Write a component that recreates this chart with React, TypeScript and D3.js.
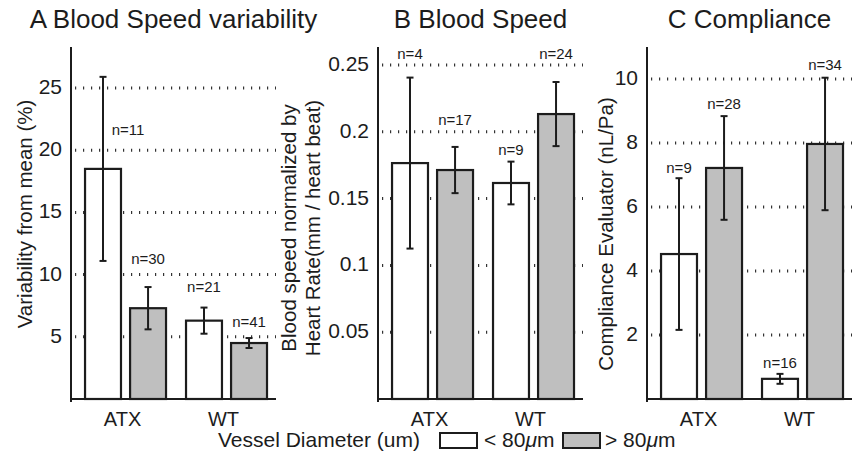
import React, { useEffect, useRef } from 'react';
import * as d3 from 'd3';

// bar order: ATX <80, ATX >80, WT <80, WT >80
const groups = ['ATX', 'WT'];
const sizeClasses = ['<', '>'];
const sizeLimit = '80';

const speedVarMean = [18.5, 7.3, 6.3, 4.5];
const speedVarErr = [7.4, 1.7, 1.05, 0.4];
const speedVarN = [11, 30, 21, 41];
const speedVarTicks = [5, 10, 15, 20, 25];

const speedMean = [0.1766, 0.1714, 0.1617, 0.2133];
const speedErr = [0.064, 0.0173, 0.016, 0.024];
const speedN = [4, 17, 9, 24];
const speedTicks = [0.05, 0.1, 0.15, 0.2, 0.25];

const complianceMean = [4.53, 7.22, 0.63, 7.97];
const complianceErr = [2.37, 1.62, 0.155, 2.07];
const complianceN = [9, 28, 16, 34];
const complianceTicks = [2, 4, 6, 8, 10];

const FONT = '"Liberation Sans", Arial, Helvetica, sans-serif';
const INK = '#1c1c1c';
const GRAY = '#bfbfbf';

interface Panel {
  title: string;
  yLabel: string[];
  yMax: number;
  ticks: number[];
  mean: number[];
  err: number[];
  n: number[];
  left: number;
  labelX: number[];   // baseline x of each y label line
  labelY: number;
  nY: number[];       // where the n= labels sit, in data units
  nDx: number[];
}

const panels: Panel[] = [
  {
    title: 'A Blood Speed variability', yLabel: ['Variability from mean (%)'],
    yMax: 28.3, ticks: speedVarTicks, mean: speedVarMean, err: speedVarErr, n: speedVarN,
    left: 71, labelX: [32], labelY: 214,
    nY: [21.2, 10.85, 8.6, 5.79], nDx: [25, 0, 0, 0],
  },
  {
    title: 'B Blood Speed', yLabel: ['Blood speed normalized by', 'Heart Rate(mm / heart beat)'],
    yMax: 0.2635, ticks: speedTicks, mean: speedMean, err: speedErr, n: speedN,
    left: 378, labelX: [296, 320], labelY: 228,
    nY: [0.2545, 0.2051, 0.1826, 0.2545], nDx: [0, 0, 0, 0],
  },
  {
    title: 'C Compliance', yLabel: ['Compliance Evaluator (nL/Pa)'],
    yMax: 11, ticks: complianceTicks, mean: complianceMean, err: complianceErr, n: complianceN,
    left: 647, labelX: [613], labelY: 234,
    nY: [7.06, 9.06, 0.97, 10.28], nDx: [0, 0, 0, 0],
  },
];

const W = 857;
const H = 459;
const TOP = 47;
const BOTTOM = 399;
const PW = 205;

const App: React.FC = () => {
  const ref = useRef<SVGSVGElement>(null);

  useEffect(() => {
    if (!ref.current) return;
    const svg = d3.select(ref.current);
    svg.selectAll('*').remove();
    svg.attr('font-family', FONT);

    panels.forEach((p) => {
      const x = d3.scaleLinear().domain([0.46, 2.49]).range([p.left, p.left + PW]);
      const y = d3.scaleLinear().domain([0, p.yMax]).range([BOTTOM, TOP]);
      const g = svg.append('g');
      const fmt = d3.format('~g');

      // dotted grid
      g.selectAll('.grid')
        .data(p.ticks)
        .enter().append('line')
        .attr('x1', p.left + 4).attr('x2', p.left + PW)
        .attr('y1', (d) => y(d)).attr('y2', (d) => y(d))
        .attr('stroke', '#333').attr('stroke-width', 3)
        .attr('stroke-dasharray', '1.2 6.8');

      const bars = p.mean.map((m, i) => ({
        m, e: p.err[i], n: p.n[i],
        cx: x(Math.floor(i / 2) + 1 + (i % 2 === 0 ? -0.223 : 0.223)),
        fill: i % 2 === 0 ? '#ffffff' : GRAY,
        nY: p.nY[i], nDx: p.nDx[i],
      }));
      const bw = x(0.356) - x(0);

      g.selectAll('.bar')
        .data(bars)
        .enter().append('rect')
        .attr('x', (d) => d.cx - bw / 2)
        .attr('width', bw)
        .attr('y', (d) => y(d.m))
        .attr('height', (d) => BOTTOM - y(d.m))
        .attr('fill', (d) => d.fill)
        .attr('stroke', INK).attr('stroke-width', 2.2);

      const eb = g.selectAll('.err').data(bars).enter().append('g');
      eb.append('line')
        .attr('x1', (d) => d.cx).attr('x2', (d) => d.cx)
        .attr('y1', (d) => y(d.m + d.e)).attr('y2', (d) => y(d.m - d.e))
        .attr('stroke', INK).attr('stroke-width', 2);
      [1, -1].forEach((s) => {
        eb.append('line')
          .attr('x1', (d) => d.cx - 3.5).attr('x2', (d) => d.cx + 3.5)
          .attr('y1', (d) => y(d.m + s * d.e)).attr('y2', (d) => y(d.m + s * d.e))
          .attr('stroke', INK).attr('stroke-width', 2);
      });

      g.selectAll('.nlab')
        .data(bars)
        .enter().append('text')
        .attr('x', (d) => d.cx + d.nDx)
        .attr('y', (d) => y(d.nY))
        .attr('text-anchor', 'middle')
        .attr('font-size', 15)
        .attr('fill', INK)
        .text((d) => `n=${d.n}`);

      // axes
      g.append('line')
        .attr('x1', p.left).attr('x2', p.left)
        .attr('y1', TOP).attr('y2', BOTTOM + 3)
        .attr('stroke', INK).attr('stroke-width', 2);
      g.append('line')
        .attr('x1', p.left).attr('x2', p.left + PW)
        .attr('y1', BOTTOM).attr('y2', BOTTOM)
        .attr('stroke', INK).attr('stroke-width', 2);

      g.selectAll('.ytick')
        .data(p.ticks)
        .enter().append('text')
        .attr('x', p.left - 9)
        .attr('y', (d) => y(d) + 6)
        .attr('text-anchor', 'end')
        .attr('font-size', 21)
        .attr('fill', INK)
        .text((d) => fmt(d));

      g.selectAll('.xtick')
        .data(groups)
        .enter().append('text')
        .attr('x', (_d, i) => x(i + 1) - 3)
        .attr('y', 426)
        .attr('text-anchor', 'middle')
        .attr('font-size', 20)
        .attr('fill', INK)
        .text((d) => d);

      p.yLabel.forEach((line, li) => {
        g.append('text')
          .attr('transform', `translate(${p.labelX[li]},${p.labelY}) rotate(-90)`)
          .attr('text-anchor', 'middle')
          .attr('font-size', 20.5)
          .attr('fill', INK)
          .text(line);
      });

      g.append('text')
        .attr('x', p.left + PW / 2)
        .attr('y', 28)
        .attr('text-anchor', 'middle')
        .attr('font-size', 26)
        .attr('fill', INK)
        .text(p.title);
    });

    // legend
    const lg = svg.append('g');
    lg.append('text')
      .attr('x', 218).attr('y', 447)
      .attr('font-size', 21).attr('fill', INK)
      .text('Vessel Diameter (um)');
    const items = [
      { sign: sizeClasses[0], fill: '#ffffff', bx: 440, tx: 484 },
      { sign: sizeClasses[1], fill: GRAY, bx: 563, tx: 605 },
    ];
    items.forEach((it) => {
      lg.append('rect')
        .attr('x', it.bx).attr('y', 433)
        .attr('width', 37).attr('height', 15)
        .attr('fill', it.fill)
        .attr('stroke', INK).attr('stroke-width', 2);
      const t = lg.append('text')
        .attr('x', it.tx).attr('y', 447)
        .attr('font-size', 21).attr('fill', INK);
      t.append('tspan').text(`${it.sign} ${sizeLimit}`);
      t.append('tspan').attr('font-style', 'italic').text('\u03bc');
      t.append('tspan').text('m');
    });
  }, []);

  return (
    <svg
      ref={ref}
      width={W}
      height={H}
      style={{ position: 'absolute', left: 0, top: 0, background: '#fff' }}
    />
  );
};

export default App;
